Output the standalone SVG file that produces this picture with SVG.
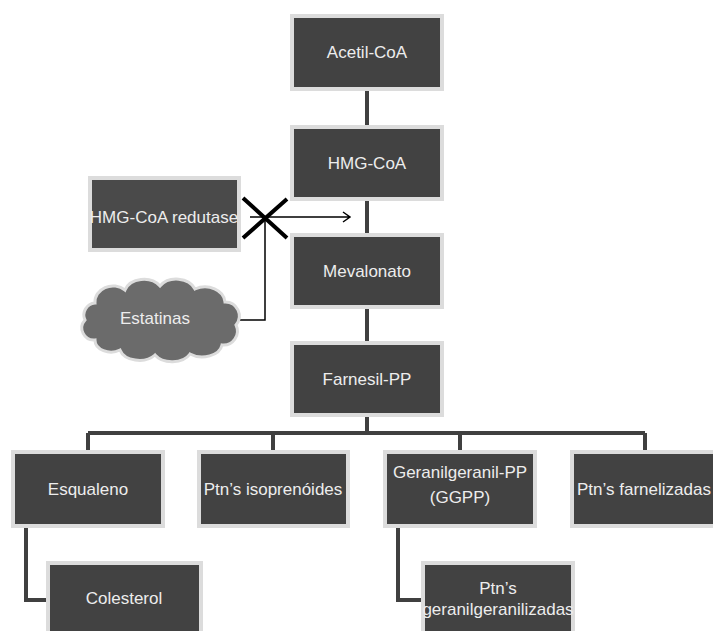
<svg xmlns="http://www.w3.org/2000/svg" width="713" height="631" viewBox="0 0 713 631">
<style>
.box{fill:#424242;stroke:#dcdcdc;stroke-width:4}
.lbl{font-family:"Liberation Sans",Arial,sans-serif;font-size:17px;fill:#ededed;text-anchor:middle}
.conn{fill:none;stroke:#404040;stroke-width:4}
.blk{fill:none;stroke:#000;stroke-width:1.5}
</style>
<rect width="713" height="631" fill="#fff"/>
<g id="connectors">
<path class="conn" d="M367,89V127M367,199V235M367,307V343M367,415V433M88,433H645M88,433V452M273,433V452M460,433V452M645,433V452M26,526V600H48M398,526V600H423"/>
<path class="blk" d="M250,217H350M343,212L350,217L343,222M265,217V320H233"/>
<path fill="none" stroke="#000" stroke-width="4" d="M243,198L287,238M287,199L243,238"/>
</g>
<g id="acetil"><rect class="box" x="292" y="16" width="150" height="73"/><text class="lbl" x="367" y="58">Acetil-CoA</text></g>
<g id="hmg"><rect class="box" x="292" y="127" width="150" height="72"/><text class="lbl" x="367" y="169">HMG-CoA</text></g>
<g id="redutase"><rect class="box" x="90" y="178" width="149" height="72" style="fill:#4a4a4a"/><text class="lbl" x="164" y="223">HMG-CoA redutase</text></g>
<g id="mevalonato"><rect class="box" x="292" y="235" width="150" height="72"/><text class="lbl" x="367" y="277">Mevalonato</text></g>
<g id="estatinas"><path d="M95,303 A18,16 0 0 1 125,290 A20,16 0 0 1 160,286 A20,16 0 0 1 195,289 A20,16 0 0 1 225,302 A14,14 0 0 1 236,325 A14,14 0 0 1 222,345 A20,14 0 0 1 190,354 A20,14 0 0 1 155,355 A20,14 0 0 1 120,350 A16,12 0 0 1 95,340 A12,12 0 0 1 85,320 A12,12 0 0 1 95,303 Z" fill="#6b6b6b" stroke="#dcdcdc" stroke-width="3"/><text class="lbl" x="155" y="324">Estatinas</text></g>
<g id="farnesil"><rect class="box" x="292" y="343" width="150" height="72"/><text class="lbl" x="367" y="385">Farnesil-PP</text></g>
<g id="esqualeno"><rect class="box" x="13" y="452" width="150" height="74"/><text class="lbl" x="88" y="495">Esqualeno</text></g>
<g id="isoprenoides"><rect class="box" x="199" y="452" width="149" height="74"/><text class="lbl" x="273" y="495">Ptn’s isoprenóides</text></g>
<g id="ggpp"><rect class="box" x="385" y="452" width="150" height="74"/><text class="lbl" x="460" y="478">Geranilgeranil-PP</text><text class="lbl" x="460" y="503">(GGPP)</text></g>
<g id="farnelizadas"><rect class="box" x="572" y="452" width="150" height="74"/><text class="lbl" x="577" y="495" style="text-anchor:start">Ptn’s farnelizadas</text></g>
<g id="colesterol"><rect class="box" x="48" y="563" width="153" height="75"/><text class="lbl" x="124" y="604">Colesterol</text></g>
<g id="geranilgeranilizadas"><rect class="box" x="423" y="563" width="150" height="75"/><text class="lbl" x="498" y="594">Ptn’s</text><text class="lbl" x="498" y="615">geranilgeranilizadas</text></g>
</svg>
